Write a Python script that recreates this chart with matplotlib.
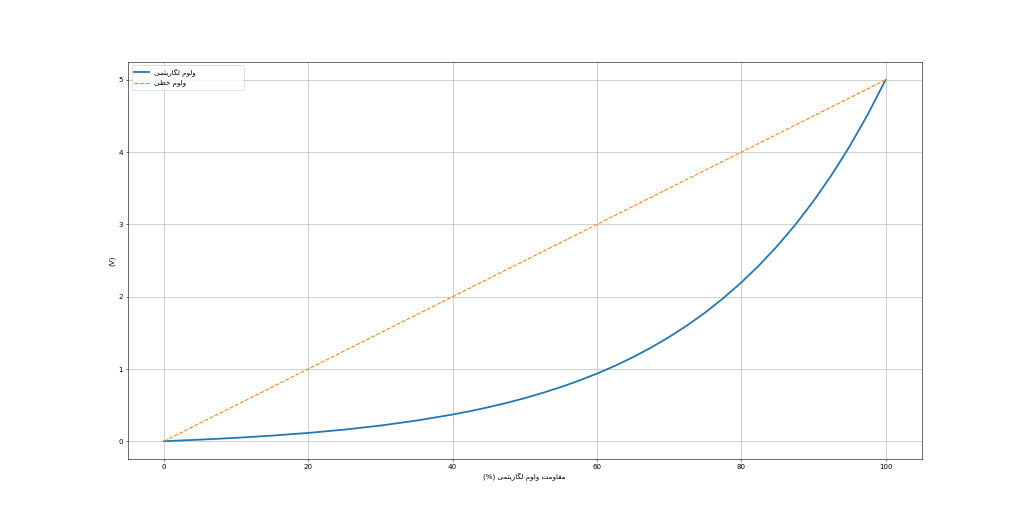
import matplotlib
matplotlib.use("Agg")
import matplotlib.pyplot as plt

# resistance position (%) and output voltage (V)
position = [0, 5, 10, 15, 20, 25, 30, 35, 40, 42.5, 45, 47.5, 50,
            52.5, 55, 57.5, 60, 62.5, 65, 67.5, 70, 72.5, 75, 77.5,
            80, 82.5, 85, 87.5, 90, 92.5, 95, 97.5, 100]
log_volts = [0.0, 0.021, 0.046, 0.077, 0.114, 0.160, 0.216, 0.285, 0.369, 0.417, 0.471, 0.530, 0.596,
             0.669, 0.749, 0.837, 0.935, 1.043, 1.163, 1.295, 1.441, 1.602, 1.780, 1.978,
             2.195, 2.436, 2.702, 2.996, 3.321, 3.680, 4.077, 4.515, 5.0]
lin_position = [0, 100]
lin_volts = [0, 5]

label_log = "ولوم لگاریتمی"
label_lin = "ولوم خطی"
xlabel_text = "مقاومت ولوم لگاریتمی"
ylabel_text = "(V)"

# presentation forms: isolated, final, initial, medial
FORMS = {
    "ا": ("\uFE8D", "\uFE8E", None, None),
    "ر": ("\uFEAD", "\uFEAE", None, None),
    "و": ("\uFEED", "\uFEEE", None, None),
    "ل": ("\uFEDD", "\uFEDE", "\uFEDF", "\uFEE0"),
    "م": ("\uFEE1", "\uFEE2", "\uFEE3", "\uFEE4"),
    "ت": ("\uFE95", "\uFE96", "\uFE97", "\uFE98"),
    "خ": ("\uFEA5", "\uFEA6", "\uFEA7", "\uFEA8"),
    "ط": ("\uFEC1", "\uFEC2", "\uFEC3", "\uFEC4"),
    "ق": ("\uFED5", "\uFED6", "\uFED7", "\uFED8"),
    "گ": ("\uFB92", "\uFB93", "\uFB94", "\uFB95"),
    "ی": ("\uFBFC", "\uFBFD", "\uFBFE", "\uFBFF"),
}


def joins_left(ch):
    return ch in FORMS and FORMS[ch][2] is not None


def persian(text):
    # shape letters and reverse for left-to-right drawing
    out = []
    for i, ch in enumerate(text):
        if ch not in FORMS:
            out.append(ch)
            continue
        prev = text[i - 1] if i > 0 else ""
        nxt = text[i + 1] if i + 1 < len(text) else ""
        p = joins_left(prev)
        n = joins_left(ch) and nxt in FORMS
        iso, fin, ini, med = FORMS[ch]
        if p and n:
            out.append(med)
        elif p:
            out.append(fin)
        elif n:
            out.append(ini)
        else:
            out.append(iso)
    return "".join(reversed(out))


fig, ax = plt.subplots(figsize=(20, 10.08), dpi=51.2)

# trailing spaces keep the legend box as wide as in the original
pad = " " * 20
ax.plot(position, log_volts, color="#1f77b4", linewidth=2.5, label=persian(label_log) + pad)
ax.plot(lin_position, lin_volts, color="#ff7f0e", linestyle="--", linewidth=1.5,
        label=persian(label_lin) + pad)

ax.set_xlabel("(%) " + persian(xlabel_text))
ax.set_ylabel(ylabel_text)
ax.grid(True)
ax.legend(loc="upper left")

fig.savefig("out.png", dpi=51.2)
